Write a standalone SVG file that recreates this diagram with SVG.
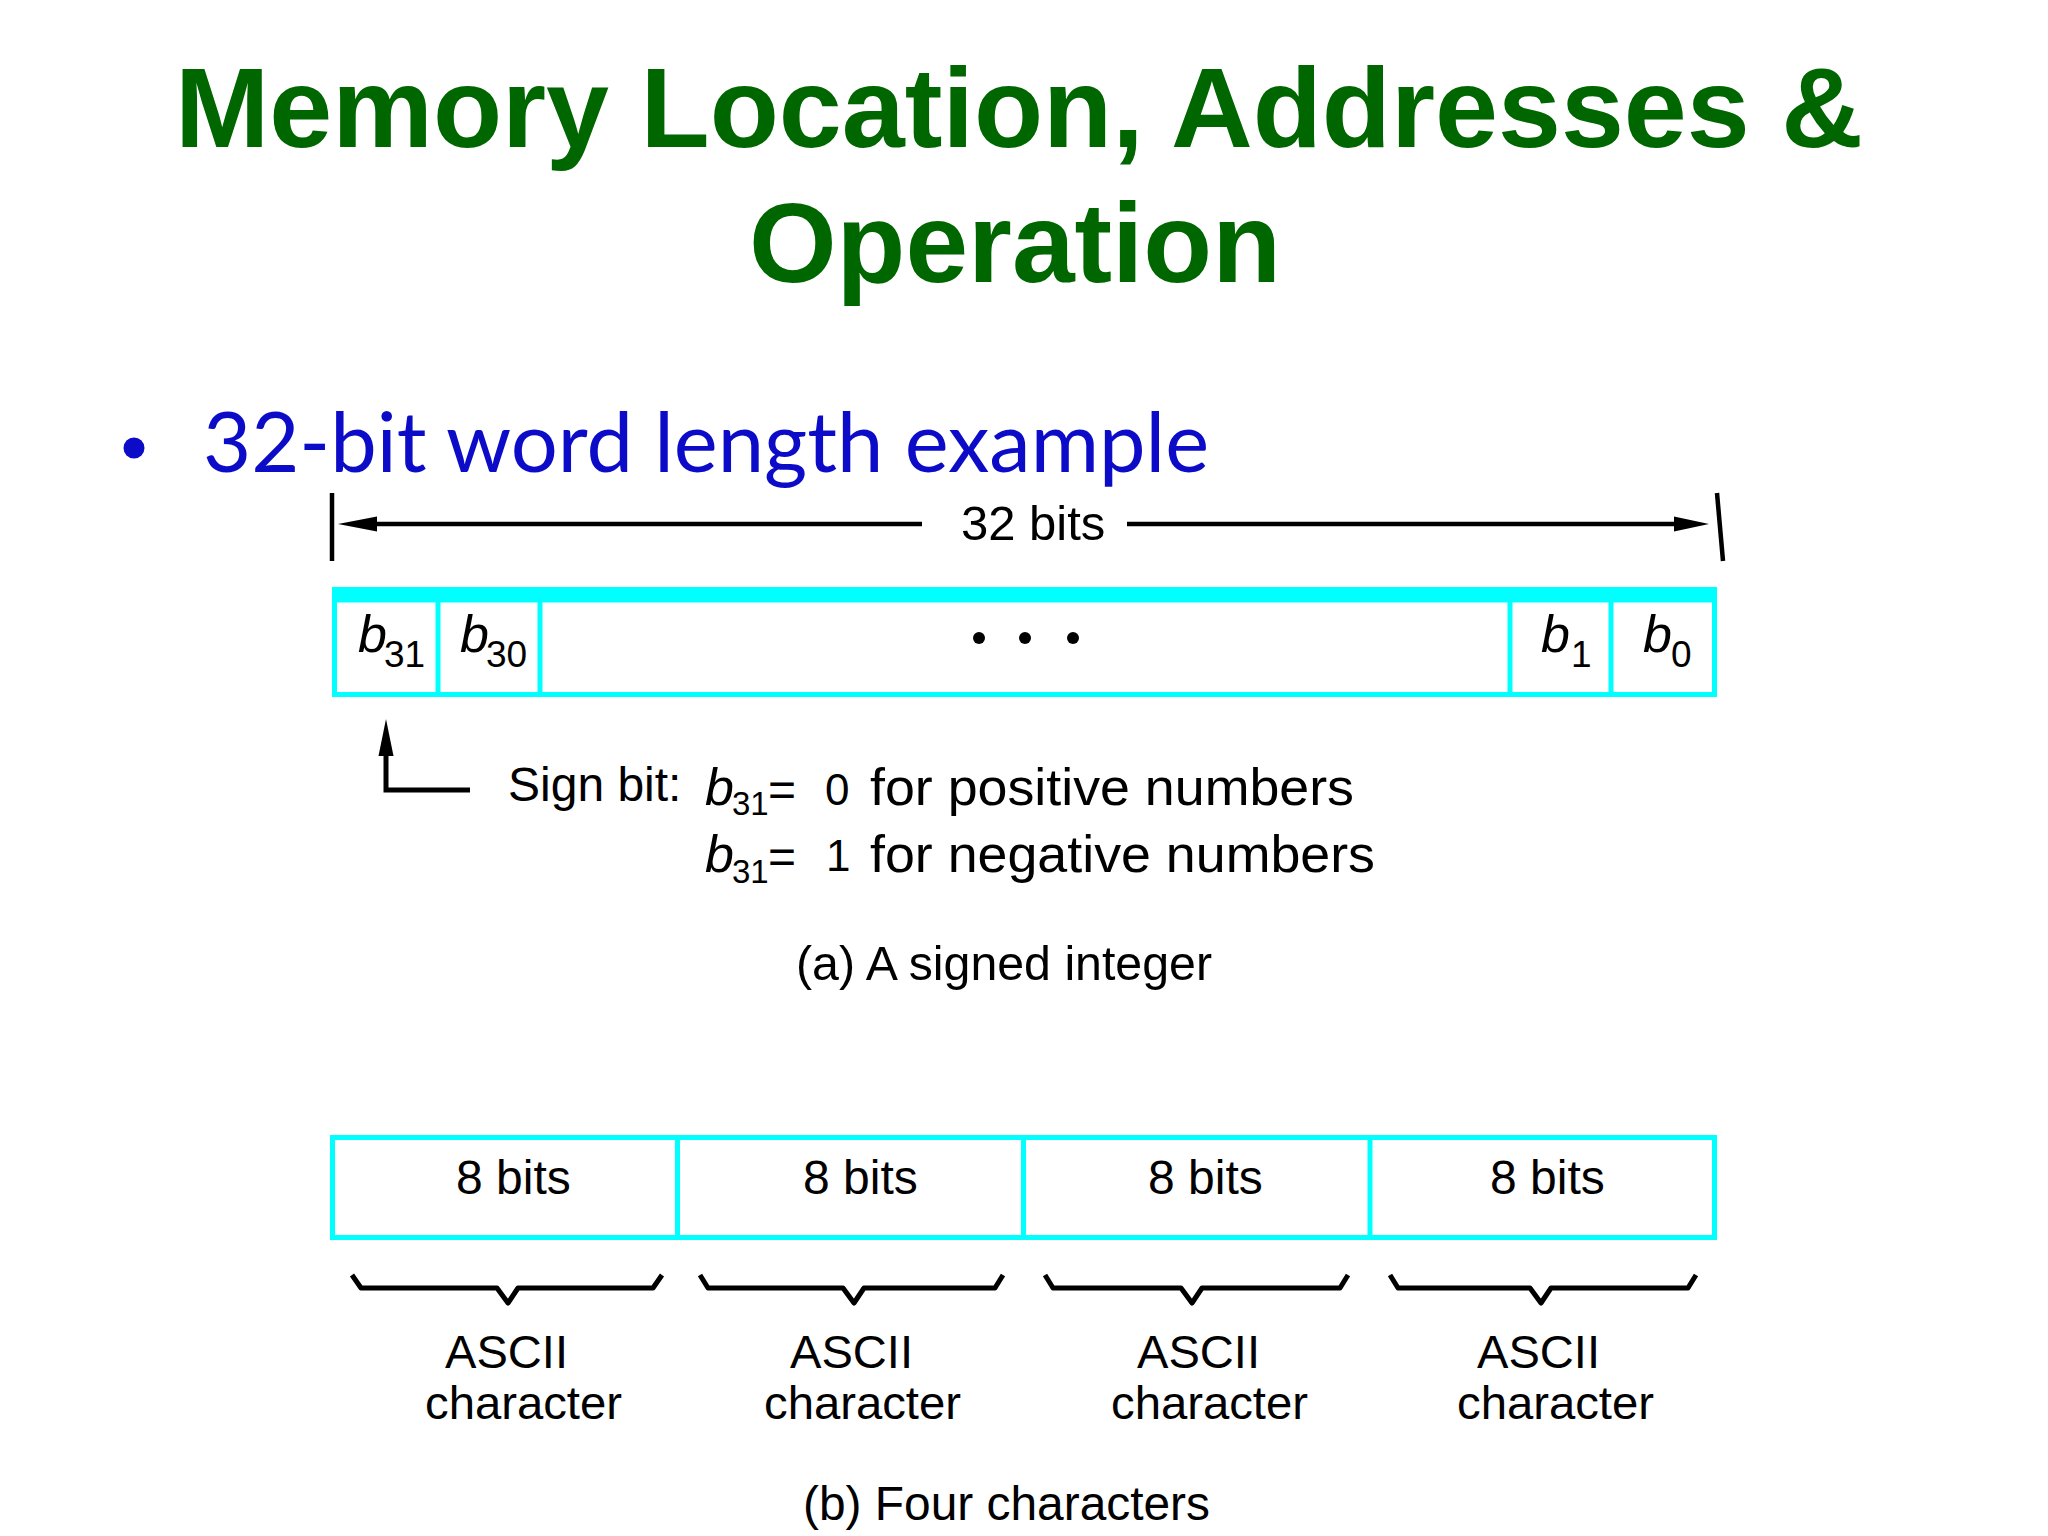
<svg xmlns="http://www.w3.org/2000/svg" width="2048" height="1536" viewBox="0 0 2048 1536">
<style>
  .t{font-family:"Liberation Sans",Arial,Helvetica,sans-serif;fill:#000}
  .title{font-family:"Liberation Sans",Arial,Helvetica,sans-serif;font-weight:bold;font-size:113px;fill:#006600;text-anchor:middle}
  .bullet{font-family:Lato,"Open Sans",sans-serif;font-size:84px;fill:#0C0CC8}
  .cy{fill:none;stroke:#00FFFF;stroke-width:5}
  .ln{fill:none;stroke:#000;stroke-width:4.5}
  .br{fill:none;stroke:#000;stroke-width:5;stroke-linejoin:round}
  .bi{font-style:italic;font-size:52px}
  .sub{font-size:37px}
  .f48{font-size:48px}
</style>
<rect x="0" y="0" width="2048" height="1536" fill="#FFFFFF"/>

<g id="title">
  <text class="title" x="1019" y="147" textLength="1688" lengthAdjust="spacingAndGlyphs">Memory Location, Addresses &amp;</text>
  <text class="title" x="1015" y="282" textLength="532" lengthAdjust="spacingAndGlyphs">Operation</text>
</g>

<g id="bullet">
  <circle cx="134" cy="448" r="10.5" fill="#0C0CC8"/>
  <text class="bullet" x="203" y="472" textLength="1006" lengthAdjust="spacingAndGlyphs">32-bit word length example</text>
</g>

<g id="connectors">
  <line class="ln" x1="332" y1="493" x2="332" y2="561"/>
  <line class="ln" x1="1717" y1="493" x2="1723" y2="561"/>
  <line class="ln" x1="360" y1="524" x2="922" y2="524"/>
  <polygon points="338,524 377,516.5 377,531.5" fill="#000"/>
  <line class="ln" x1="1127" y1="524" x2="1680" y2="524"/>
  <polygon points="1709,524 1674,516.5 1674,531.5" fill="#000"/>
  <polyline points="386,750 386,790 470,790" fill="none" stroke="#000" stroke-width="5" stroke-linejoin="miter"/>
  <polygon points="386,719 378.5,756 393.5,756" fill="#000"/>
  <path class="br" d="M352,1275 L361,1288 L497,1288 L508,1303 L518,1288 L653,1288 L662,1275"/>
  <path class="br" d="M700,1275 L708,1288 L843,1288 L854,1303 L864,1288 L995,1288 L1003,1275"/>
  <path class="br" d="M1045,1275 L1053,1288 L1181,1288 L1192,1303 L1202,1288 L1340,1288 L1348,1275"/>
  <path class="br" d="M1390,1275 L1398,1288 L1530,1288 L1541,1303 L1551,1288 L1688,1288 L1696,1275"/>
</g>

<g id="label-32bits">
  <text class="t" x="961" y="540" font-size="49">32 bits</text>
</g>

<g id="word-a">
  <rect x="332" y="587" width="1385" height="15" fill="#00FFFF"/>
  <rect class="cy" x="334.5" y="600" width="1380" height="94.5"/>
  <line class="cy" x1="438" y1="600" x2="438" y2="695"/>
  <line class="cy" x1="540" y1="600" x2="540" y2="695"/>
  <line class="cy" x1="1510" y1="600" x2="1510" y2="695"/>
  <line class="cy" x1="1611" y1="600" x2="1611" y2="695"/>
  <text class="t bi" x="358" y="652">b</text><text class="t sub" x="384" y="667">31</text>
  <text class="t bi" x="460" y="652">b</text><text class="t sub" x="486" y="667">30</text>
  <circle cx="979" cy="638" r="6" fill="#000"/>
  <circle cx="1025" cy="638" r="6" fill="#000"/>
  <circle cx="1073" cy="638" r="6" fill="#000"/>
  <text class="t bi" x="1541" y="652">b</text><text class="t sub" x="1571" y="667">1</text>
  <text class="t bi" x="1643" y="652">b</text><text class="t sub" x="1671" y="667">0</text>
</g>

<g id="sign-text">
  <text class="t f48" x="508" y="801">Sign bit:</text>
  <text class="t bi" x="705" y="805">b</text><text class="t" x="732" y="815" font-size="33">31</text>
  <text class="t f48" x="768" y="806">=</text>
  <text class="t" x="825" y="805" font-size="44">0</text>
  <text class="t" x="870" y="805" font-size="52" textLength="484" lengthAdjust="spacingAndGlyphs">for positive numbers</text>
  <text class="t bi" x="705" y="872">b</text><text class="t" x="732" y="883" font-size="33">31</text>
  <text class="t f48" x="768" y="873">=</text>
  <text class="t" x="826" y="871" font-size="44">1</text>
  <text class="t" x="870" y="872" font-size="52" textLength="505" lengthAdjust="spacingAndGlyphs">for negative numbers</text>
</g>

<g id="caption-a">
  <text class="t f48" x="796" y="980" textLength="416" lengthAdjust="spacingAndGlyphs">(a) A signed integer</text>
</g>

<g id="word-b">
  <rect class="cy" x="332.5" y="1137.5" width="1382" height="100"/>
  <line class="cy" x1="677.5" y1="1137" x2="677.5" y2="1238"/>
  <line class="cy" x1="1023.5" y1="1137" x2="1023.5" y2="1238"/>
  <line class="cy" x1="1370" y1="1137" x2="1370" y2="1238"/>
  <text class="t f48" x="456" y="1194">8 bits</text>
  <text class="t f48" x="803" y="1194">8 bits</text>
  <text class="t f48" x="1148" y="1194">8 bits</text>
  <text class="t f48" x="1490" y="1194">8 bits</text>
</g>

<g id="ascii-labels" class="t" font-size="46">
  <text x="445" y="1368" textLength="123" lengthAdjust="spacingAndGlyphs">ASCII</text>
  <text x="425" y="1419" textLength="197" lengthAdjust="spacingAndGlyphs">character</text>
  <text x="790" y="1368" textLength="123" lengthAdjust="spacingAndGlyphs">ASCII</text>
  <text x="764" y="1419" textLength="197" lengthAdjust="spacingAndGlyphs">character</text>
  <text x="1137" y="1368" textLength="123" lengthAdjust="spacingAndGlyphs">ASCII</text>
  <text x="1111" y="1419" textLength="197" lengthAdjust="spacingAndGlyphs">character</text>
  <text x="1477" y="1368" textLength="123" lengthAdjust="spacingAndGlyphs">ASCII</text>
  <text x="1457" y="1419" textLength="197" lengthAdjust="spacingAndGlyphs">character</text>
</g>

<g id="caption-b">
  <text class="t f48" x="803" y="1520" textLength="407" lengthAdjust="spacingAndGlyphs">(b) Four characters</text>
</g>
</svg>
